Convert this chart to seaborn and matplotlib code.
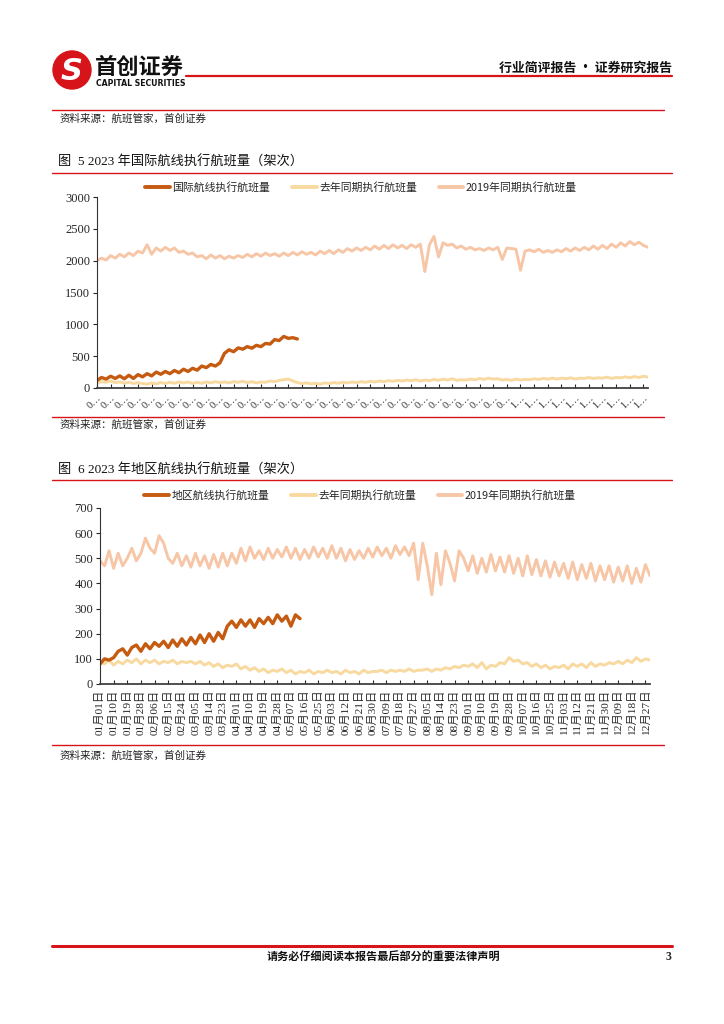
import matplotlib
matplotlib.use("Agg")
import matplotlib.pyplot as plt
from matplotlib.lines import Line2D
from matplotlib.patches import Circle
import seaborn as sns
import pandas as pd

W, H = 724, 1024

# ── 国际航线 (values every 3 days from 01-01) ──
intl_2023 = [120, 165, 140, 185, 150, 190, 145, 200, 150, 210, 175,
             225, 190, 250, 215, 260, 225, 275, 240, 295, 260,
             310, 280, 345, 320, 370, 345, 395, 545, 600, 570,
             630, 610, 650, 625, 670, 650, 700, 690, 760, 745,
             810, 780, 790, 770]
intl_2022 = [80, 100, 90, 110, 85, 95, 75, 90, 70, 85, 70,
             60, 80, 65, 85, 70, 90, 75, 95, 80, 95,
             70, 90, 75, 95, 80, 100, 85, 95, 80, 100,
             90, 105, 85, 100, 80, 95, 90, 110, 100, 120,
             130, 140, 110, 85, 70, 80, 65, 75, 60, 80,
             70, 85, 75, 90, 80, 95, 85, 100, 90, 105,
             95, 110, 100, 115, 105, 120, 110, 125, 115, 130,
             110, 125, 115, 135, 120, 140, 125, 145, 120, 130,
             125, 140, 130, 150, 135, 155, 140, 145, 125, 135,
             120, 140, 125, 135, 130, 145, 135, 150, 140, 155,
             140, 155, 145, 160, 140, 155, 150, 165, 150, 160,
             155, 170, 150, 165, 160, 175, 160, 180, 165, 185, 170]
intl_2019 = [2000, 2040, 2010, 2080, 2040, 2100, 2060, 2120, 2080, 2150, 2120,
             2250, 2100, 2200, 2150, 2210, 2160, 2200, 2130, 2150, 2100,
             2120, 2060, 2080, 2030, 2090, 2040, 2080, 2030, 2070, 2040,
             2080, 2050, 2100, 2060, 2110, 2070, 2120, 2080, 2110, 2070,
             2120, 2080, 2130, 2090, 2140, 2100, 2130, 2090, 2150, 2110,
             2160, 2110, 2170, 2130, 2190, 2150, 2200, 2160, 2210, 2170,
             2230, 2180, 2240, 2190, 2250, 2200, 2240, 2190, 2250, 2210,
             2260, 1830, 2250, 2380, 2060, 2280, 2240, 2260, 2200, 2230,
             2180, 2210, 2170, 2190, 2160, 2200, 2170, 2210, 2020, 2200,
             2190, 2180, 1850, 2150, 2170, 2140, 2180, 2130, 2160, 2130,
             2170, 2140, 2190, 2150, 2200, 2160, 2210, 2170, 2230, 2180,
             2240, 2190, 2260, 2210, 2280, 2230, 2300, 2250, 2290, 2240, 2210]

# ── 地区航线 ──
reg_2023 = [80, 100, 95, 105, 130, 140, 115, 145, 155, 130, 160,
            140, 165, 150, 170, 145, 175, 150, 180, 155, 185,
            160, 195, 165, 200, 170, 205, 180, 230, 250, 225,
            255, 230, 255, 225, 260, 240, 265, 240, 275, 250,
            270, 230, 275, 260]
reg_2022 = [85, 80, 95, 75, 90, 80, 95, 85, 100, 80, 95,
            85, 95, 80, 90, 85, 95, 80, 90, 85, 90,
            80, 90, 75, 85, 70, 80, 65, 75, 70, 80,
            60, 70, 55, 65, 50, 60, 45, 55, 50, 60,
            45, 55, 40, 50, 45, 55, 40, 50, 45, 55,
            45, 50, 40, 55, 45, 50, 40, 55, 45, 50,
            50, 55, 45, 55, 50, 55, 50, 60, 50, 55,
            55, 60, 50, 60, 55, 65, 60, 70, 65, 75,
            70, 80, 65, 85, 60, 75, 70, 85, 80, 105,
            90, 95, 80, 85, 70, 80, 65, 75, 60, 70,
            65, 75, 60, 80, 70, 80, 65, 85, 70, 80,
            75, 85, 80, 90, 80, 95, 85, 105, 90, 100, 95]
reg_2019 = [490, 470, 530, 460, 520, 470, 500, 540, 490, 520, 580,
            540, 520, 590, 560, 500, 480, 520, 470, 510, 465,
            520, 470, 510, 460, 515, 465, 520, 470, 520, 480,
            540, 490, 545, 500, 530, 495, 540, 500, 535, 505,
            545, 500, 540, 495, 535, 500, 545, 505, 540, 500,
            550, 500, 540, 490, 535, 495, 530, 500, 540, 505,
            545, 510, 540, 500, 550, 515, 545, 510, 560, 415,
            560, 470, 355, 520, 395, 530, 480, 410, 530, 500,
            450, 510, 440, 500, 445, 515, 450, 505, 445, 510,
            440, 500, 430, 510, 435, 495, 430, 490, 425, 485,
            430, 480, 420, 485, 415, 475, 420, 480, 410, 470,
            415, 470, 405, 465, 410, 470, 400, 460, 405, 475, 430]

sample_dates = pd.date_range("2023-01-01", periods=len(intl_2019), freq="3D")
tick_dates = pd.date_range("2023-01-01", "2023-12-31", freq="9D")

CUR_C = "#C55A11"
LY_C = "#F8D9A0"
Y19_C = "#F7C6A6"
RED = "#D7141A"

sns.set_theme(style="white")
plt.rcParams["font.family"] = ["Liberation Serif", "Noto Sans CJK SC"]
CJK = ["Noto Sans CJK SC", "DejaVu Sans"]

fig = plt.figure(figsize=(W / 100, H / 100), dpi=100)


def fx(x):
    return x / W


def fy(y):
    return 1 - y / H


def hline(y, x0, x1, lw=1.2, color=RED):
    fig.add_artist(Line2D([fx(x0), fx(x1)], [fy(y), fy(y)], color=color, lw=lw,
                          transform=fig.transFigure))


def source(y):
    fig.text(fx(60), fy(y), "资料来源：航班管家，首创证券", family=CJK, fontsize=7.6,
             style="italic", color="#222222", va="center")


def draw_chart(box, cur, ly, y19, cur_label, ymax, ystep, short_labels, legend_xy):
    x0, y0, x1, y1 = box
    ax = fig.add_axes([fx(x0), fy(y1), fx(x1) - fx(x0), fy(y0) - fy(y1)])
    sns.lineplot(x=sample_dates, y=y19, ax=ax, color=Y19_C, lw=2.1)
    sns.lineplot(x=sample_dates, y=ly, ax=ax, color=LY_C, lw=2.1)
    sns.lineplot(x=sample_dates[:len(cur)], y=cur, ax=ax, color=CUR_C, lw=2.4)
    ax.set_xlim(sample_dates[0], sample_dates[-1])
    ax.set_ylim(0, ymax)
    ax.set_yticks(range(0, ymax + 1, ystep))
    ax.tick_params(axis="y", labelsize=9, direction="out", length=3, width=0.8,
                   left=True, pad=2)
    ax.set_xticks(tick_dates)
    if short_labels:
        labels = [("0" if d.month < 10 else "1") + "…" for d in tick_dates]
        ax.set_xticklabels(labels, rotation=45, fontsize=7.5, ha="right",
                           rotation_mode="anchor")
    else:
        labels = [f"{d.month:02d}月{d.day:02d}日" for d in tick_dates]
        ax.set_xticklabels(labels, rotation=90, fontsize=8.2)
    ax.tick_params(axis="x", direction="in", length=3, width=0.8, bottom=True, pad=4)
    for s in ["top", "right"]:
        ax.spines[s].set_visible(False)
    ax.spines["left"].set_color("#333333")
    ax.spines["left"].set_linewidth(0.8)
    ax.spines["bottom"].set_color("#404040")
    ax.spines["bottom"].set_linewidth(1.3)
    ax.set_xlabel("")
    ax.set_ylabel("")
    handles = [Line2D([], [], color=CUR_C, lw=2.8),
               Line2D([], [], color=LY_C, lw=2.8),
               Line2D([], [], color=Y19_C, lw=2.8)]
    names = [cur_label, "去年同期执行航班量", "2019年同期执行航班量"]
    fig.legend(handles, names, loc="center", bbox_to_anchor=(fx(legend_xy[0]), fy(legend_xy[1])),
               ncol=3, frameon=False, prop={"family": CJK, "size": 7.8},
               handlelength=2.3, columnspacing=2.0, handletextpad=0.2)
    return ax


# ── header ──
logo = fig.add_axes([fx(52), fy(90), fx(40), fx(40) * W / H])
logo.set_xlim(-1, 1)
logo.set_ylim(-1, 1)
logo.set_aspect("equal")
logo.axis("off")
logo.add_patch(Circle((0, 0), 0.95, color=RED))
logo.text(0, -0.05, "S", color="white", fontsize=22, fontweight="bold", style="italic",
          ha="center", va="center", family="DejaVu Sans")
fig.text(fx(95), fy(67), "首创证券", family=CJK, fontsize=16, fontweight="bold",
         color="#111111", va="center")
fig.text(fx(96), fy(83), "CAPITAL SECURITIES", family="DejaVu Sans", fontsize=5.6,
         fontweight="bold", color="#111111", va="center")
hline(76, 186, 672, lw=1.6)
fig.text(fx(672), fy(68), "行业简评报告 · 证券研究报告", family=CJK, fontsize=9.3,
         fontweight="bold", ha="right", va="center", color="#111111")

hline(110, 52, 664, lw=1.0)
source(119)

# ── chart 1 ──
fig.text(fx(58), fy(162), "图  5 2023 年国际航线执行航班量（架次）", family=["Liberation Serif", "Noto Sans CJK SC"],
         fontsize=9.5, va="center", color="#111111")
hline(173, 52, 672, lw=1.0)
draw_chart((97, 197, 648, 388), intl_2023, intl_2022, intl_2019, "国际航线执行航班量",
           3000, 500, True, (361, 187))
hline(417, 52, 664, lw=1.0)
source(425)

# ── chart 2 ──
fig.text(fx(58), fy(470), "图  6 2023 年地区航线执行航班量（架次）", family=["Liberation Serif", "Noto Sans CJK SC"],
         fontsize=9.5, va="center", color="#111111")
hline(480, 52, 672, lw=1.0)
draw_chart((100, 508, 650, 684), reg_2023, reg_2022, reg_2019, "地区航线执行航班量",
           700, 100, False, (360, 495))
hline(745, 52, 664, lw=1.0)
source(756)

# ── footer ──
hline(946, 52, 672, lw=2.2)
fig.text(fx(383), fy(957), "请务必仔细阅读本报告最后部分的重要法律声明", family=CJK, fontsize=8,
         fontweight="bold", ha="center", va="center", color="#111111")
fig.text(fx(668), fy(957), "3", fontsize=8.5, fontweight="bold", ha="center", va="center")

fig.savefig("out.png", dpi=100, facecolor="white")
